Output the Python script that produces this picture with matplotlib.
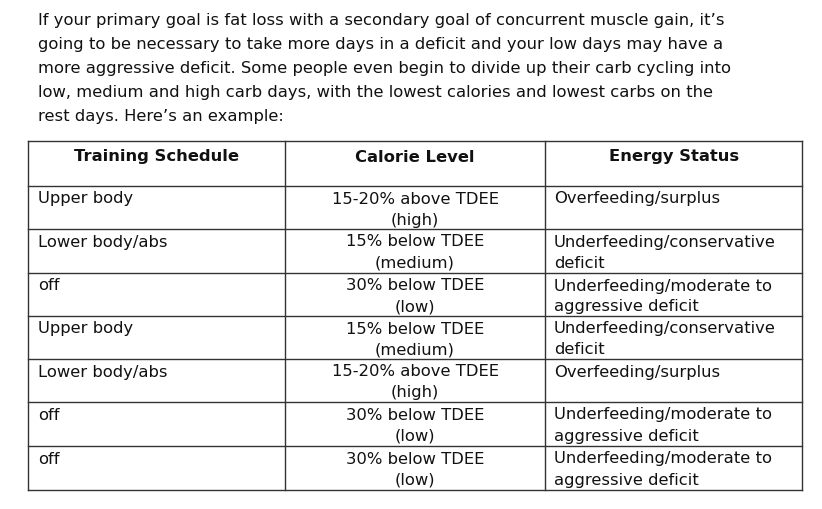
import matplotlib
matplotlib.use("Agg")
import matplotlib.pyplot as plt
from matplotlib.lines import Line2D

plt.rcParams['font.family'] = ['DejaVu Sans']

W, H = 822, 509
intro = [
    "If your primary goal is fat loss with a secondary goal of concurrent muscle gain, it\u2019s",
    "going to be necessary to take more days in a deficit and your low days may have a",
    "more aggressive deficit. Some people even begin to divide up their carb cycling into",
    "low, medium and high carb days, with the lowest calories and lowest carbs on the",
    "rest days. Here\u2019s an example:",
]
headers = ["Training Schedule", "Calorie Level", "Energy Status"]
schedule = ["Upper body", "Lower body/abs", "off", "Upper body", "Lower body/abs", "off", "off"]
calorie = [["15-20% above TDEE", "(high)"], ["15% below TDEE", "(medium)"],
           ["30% below TDEE", "(low)"], ["15% below TDEE", "(medium)"],
           ["15-20% above TDEE", "(high)"], ["30% below TDEE", "(low)"],
           ["30% below TDEE", "(low)"]]
status = [["Overfeeding/surplus"], ["Underfeeding/conservative", "deficit"],
          ["Underfeeding/moderate to", "aggressive deficit"],
          ["Underfeeding/conservative", "deficit"], ["Overfeeding/surplus"],
          ["Underfeeding/moderate to", "aggressive deficit"],
          ["Underfeeding/moderate to", "aggressive deficit"]]

fig = plt.figure(figsize=(W / 100, H / 100), dpi=100)
fs = 11.8

def T(x, y, s, **kw):
    fig.text(x / W, 1 - y / H, s, fontsize=fs, va="center", color="#111111", **kw)

def L(x0, y0, x1, y1):
    fig.add_artist(Line2D([x0 / W, x1 / W], [1 - y0 / H, 1 - y1 / H], color="#333333", lw=1))

for i, s in enumerate(intro):
    T(38, 21 + i * 24, s)

left, right = 28, 802
cols = [28, 285, 545, 802]
rows = [141, 186, 229, 273, 316, 359, 402, 446, 490]
for y in rows:
    L(left, y, right, y)
for x in cols:
    L(x, rows[0], x, rows[-1])

centers = [157, 415, 674]
for c, h in zip(centers, headers):
    T(c, 157, h, ha="center", fontweight="bold")

for i in range(len(schedule)):
    top = rows[i + 1] + 13
    T(38, top, schedule[i])
    for j, s in enumerate(calorie[i]):
        T(415, top + j * 21, s, ha="center")
    for j, s in enumerate(status[i]):
        T(554, top + j * 21, s)

fig.savefig("out.png", dpi=100, facecolor="white")
